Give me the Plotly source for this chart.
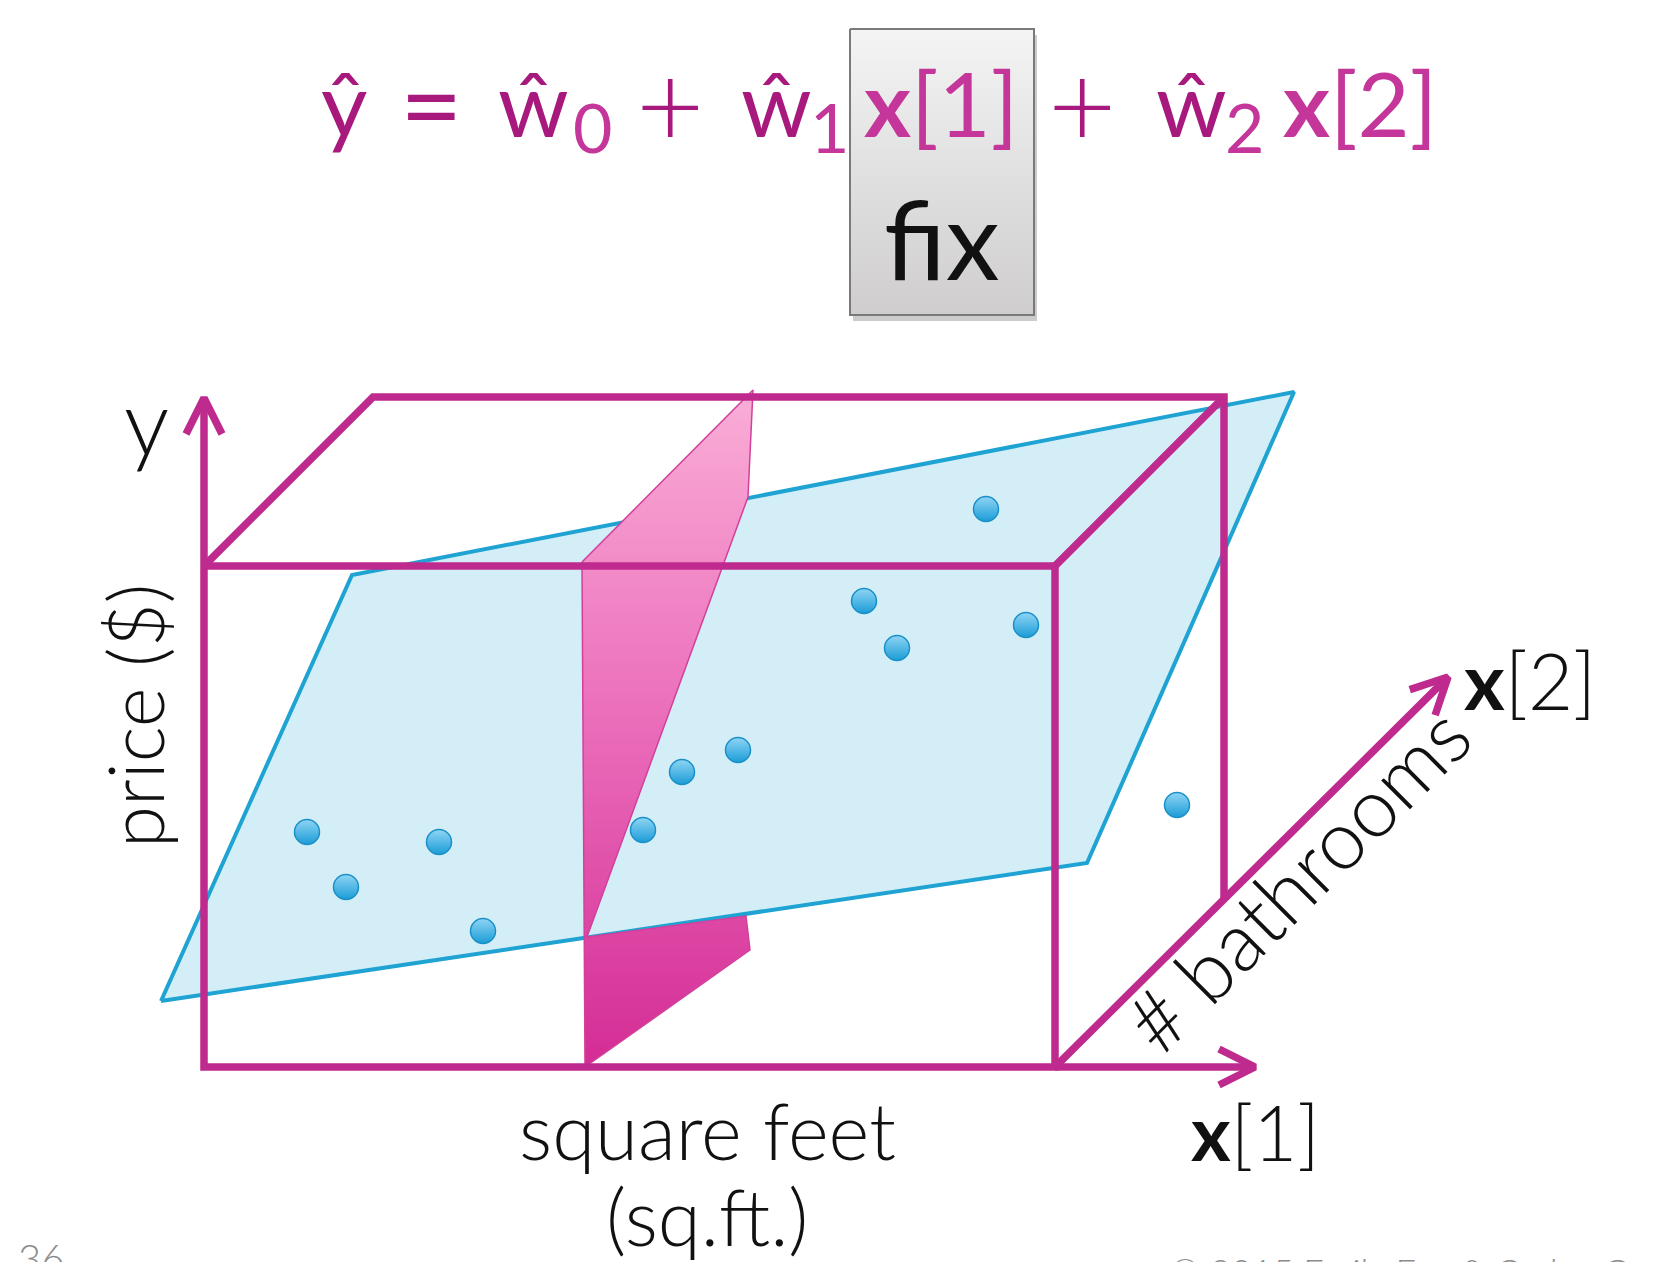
import math
import plotly.graph_objects as go

W, H = 1660, 1270
PAGE_MARGIN = 8          # default <body> margin of the html page
FONT = "Lato"
MAGENTA = "#BE2A8E"
EQ_DARK = "#A8197E"
EQ_LIGHT = "#C4369A"

# ---- data points (house observations), in illustration canvas units ----
points_x = [307, 346, 439, 483, 643, 682, 738, 864, 897, 986, 1026, 1177]
points_y = [832, 887, 842, 931, 830, 772, 750, 601, 648, 509, 625, 805]

# ---- fitted hyperplane outline ----
plane_x = [161, 352, 1294, 1087]
plane_y = [1001, 575, 392, 863]

# ---- slice of the hyperplane at fixed x[1] ----
slice_x = [582, 753, 748, 587, 746, 750, 585]
slice_y = [562, 390, 497, 937, 916, 950, 1067]

# ---- bounding box ----
box_left, box_right, box_top, box_bottom = 204, 1055, 566, 1067
depth_dx, depth_dy = 169, -169

# ---- axes arrows (tails / tips) ----
y_axis = [(204, 566), (204, 398)]
x1_axis = [(1055, 1067), (1255, 1067)]
x2_axis = [(1055, 1067), (1448, 677)]

fig = go.Figure()

# hyperplane
fig.add_trace(go.Scatter(
    x=plane_x + [plane_x[0]], y=plane_y + [plane_y[0]],
    mode="lines", fill="toself", fillcolor="#D4EEF8",
    line=dict(color="#1EA3D3", width=4), hoverinfo="skip"))

# slice
fig.add_trace(go.Scatter(
    x=slice_x + [slice_x[0]], y=slice_y + [slice_y[0]],
    mode="lines", fill="toself",
    fillgradient=dict(type="vertical",
                      colorscale=[[0, "#FAAED7"], [0.45, "#EC72BD"], [1, "#D42C95"]],
                      start=390, stop=1067),
    line=dict(color="#D2409B", width=1.5), hoverinfo="skip"))

# box edges
bx, by = [], []
def seg(pts):
    for p in pts:
        bx.append(p[0]); by.append(p[1])
    bx.append(None); by.append(None)

seg([(box_left, box_top), (box_right, box_top), (box_right, box_bottom),
     (box_left, box_bottom), (box_left, box_top)])
seg([(box_left, box_top), (box_left + depth_dx, box_top + depth_dy),
     (box_right + depth_dx, box_top + depth_dy),
     (box_right + depth_dx, box_bottom + depth_dy)])
seg([(box_right, box_top), (box_right + depth_dx, box_top + depth_dy)])
fig.add_trace(go.Scatter(x=bx, y=by, mode="lines",
                         line=dict(color=MAGENTA, width=7.5), hoverinfo="skip"))

# arrows
ax_, ay_ = [], []
for (t0, t1) in [y_axis, x1_axis, x2_axis]:
    ax_ += [t0[0], t1[0], None]
    ay_ += [t0[1], t1[1], None]
    dx, dy = t1[0] - t0[0], t1[1] - t0[1]
    L = math.hypot(dx, dy)
    ux, uy = dx / L, dy / L
    nx, ny = -uy, ux
    bxp, byp = t1[0] - 36 * ux, t1[1] - 36 * uy
    ax_ += [bxp + 18 * nx, t1[0], bxp - 18 * nx, None]
    ay_ += [byp + 18 * ny, t1[1], byp - 18 * ny, None]
fig.add_trace(go.Scatter(x=ax_, y=ay_, mode="lines",
                         line=dict(color=MAGENTA, width=7.5), hoverinfo="skip"))

# data points
fig.add_trace(go.Scatter(
    x=points_x, y=points_y, mode="markers",
    marker=dict(size=25, color="#8FD5F5",
                gradient=dict(type="vertical", color="#1B9CD6"),
                line=dict(color="#1A90C8", width=1.5)),
    hoverinfo="skip"))

# "fix" box
fix_l, fix_r, fix_t, fix_b = 850, 1034, 29, 315
fig.add_shape(type="rect", x0=fix_l + 3, x1=fix_r + 3, y0=fix_t + 6, y1=fix_b + 6,
              fillcolor="rgba(0,0,0,0.20)", line=dict(width=0), layer="below")
fig.add_trace(go.Scatter(
    x=[fix_l, fix_r, fix_r, fix_l, fix_l], y=[fix_t, fix_t, fix_b, fix_b, fix_t],
    mode="lines", fill="toself",
    fillgradient=dict(type="vertical", colorscale=[[0, "#F4F4F4"], [1, "#CFCDCD"]],
                      start=fix_t, stop=fix_b),
    line=dict(color="#7A7A7A", width=2), hoverinfo="skip"))

annotations = []
def txt(text, x, y, size, color="#111111", angle=0, xanchor="center", yanchor="middle", weight=300):
    annotations.append(dict(text=text, x=x, y=y, xref="x", yref="y", showarrow=False,
                            xanchor=xanchor, yanchor=yanchor, textangle=angle,
                            font=dict(family=FONT, size=size, color=color, weight=weight)))

# equation
EQ = 90
SUB = 68
txt("ŷ", 344, 102, EQ, EQ_DARK, weight=400)
txt("=", 431, 102, 108, EQ_DARK, weight=400)
txt("ŵ", 533, 102, EQ, EQ_DARK, weight=400)
txt("0", 592, 126, SUB, EQ_LIGHT, weight=400)
txt("+", 670, 102, 118, EQ_DARK, weight=300)
txt("ŵ", 776, 102, EQ, EQ_DARK, weight=400)
txt("1", 829, 126, SUB, EQ_LIGHT, weight=400)
txt("<b>x</b>[1]", 941, 102, EQ, EQ_LIGHT, weight=400)
txt("+", 1082, 102, 118, EQ_DARK, weight=300)
txt("ŵ", 1191, 102, EQ, EQ_DARK, weight=400)
txt("2", 1244, 126, SUB, EQ_LIGHT, weight=400)
txt("<b>x</b>[2]", 1360, 102, EQ, EQ_LIGHT, weight=400)
txt("fix", 942, 238, 108, "#111111", weight=400)

# axis labels
txt("y", 146, 420, 90)
txt("price ($)", 134, 716, 76, angle=-90)
txt("square feet", 707, 1130, 78)
txt("(sq.ft.)", 707, 1216, 78)
txt("<b>x</b>[1]", 1255, 1131, 76)
txt("<b>x</b>[2]", 1530, 680, 78)
txt("# bathrooms", 1296, 878, 82, angle=-45)
txt("36", 16, 1232, 40, "#8C8C8C", xanchor="left", yanchor="top")
txt("© 2015 Emily Fox & Carlos Guestrin", 1168, 1247, 36, "#8C8C8C",
    xanchor="left", yanchor="top")

fig.update_layout(
    width=W - PAGE_MARGIN, height=H - 2 * PAGE_MARGIN,
    margin=dict(l=0, r=0, t=0, b=0),
    paper_bgcolor="white", plot_bgcolor="white", showlegend=False,
    xaxis=dict(range=[PAGE_MARGIN, W], visible=False, fixedrange=True),
    yaxis=dict(range=[H - PAGE_MARGIN, PAGE_MARGIN], visible=False, fixedrange=True),
    annotations=annotations)

fig.write_html("out.html")
